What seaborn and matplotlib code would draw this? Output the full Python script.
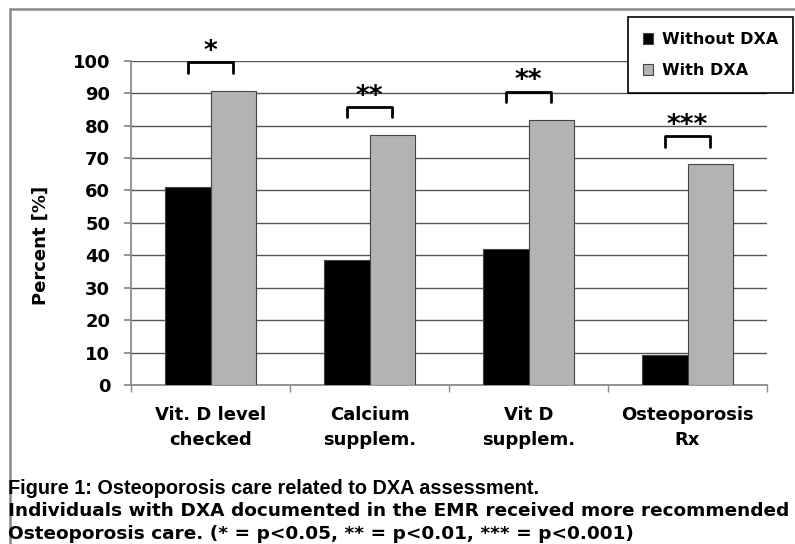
import matplotlib
matplotlib.use("Agg")
import matplotlib.pyplot as plt
import seaborn as sns
import pandas as pd
from matplotlib.lines import Line2D

categories = ["Vit. D level\nchecked", "Calcium\nsupplem.", "Vit D\nsupplem.", "Osteoporosis\nRx"]
series_names = ["Without DXA", "With DXA"]
without_dxa = [61.2, 38.6, 41.8, 9.4]
with_dxa = [90.8, 77.0, 81.8, 68.0]
significance = ["*", "**", "**", "***"]
yticks = [0, 10, 20, 30, 40, 50, 60, 70, 80, 90, 100]
caption_lines = [
    "Figure 1: Osteoporosis care related to DXA assessment.",
    "Individuals with DXA documented in the EMR received more recommended",
    "Osteoporosis care. (* = p<0.05, ** = p<0.01, *** = p<0.001)",
]

sns.set_theme(style="white")
plt.rcParams["font.family"] = ["DejaVu Sans"]
plt.rcParams["font.weight"] = "bold"
for key in ["text.color", "axes.labelcolor", "xtick.color", "ytick.color"]:
    plt.rcParams[key] = "black"

df = pd.DataFrame({
    "category": categories * 2,
    "group": [series_names[0]] * 4 + [series_names[1]] * 4,
    "value": without_dxa + with_dxa,
})

W, H = 795, 544
fig = plt.figure(figsize=(W / 100, H / 100), dpi=100)
ax = fig.add_axes([131 / W, 1 - 385 / H, 636 / W, 324.3 / H])

sns.barplot(data=df, x="category", y="value", hue="group", order=categories,
            hue_order=series_names, palette=["#000000", "#b3b3b3"], width=0.57,
            edgecolor="#444444", linewidth=0.8, ax=ax, zorder=3)

ax.set_ylim(0, 100)
ax.set_xlim(-0.5, len(categories) - 0.5)
ax.set_yticks(yticks)
ax.set_yticklabels([str(t) for t in yticks], fontsize=13, fontweight="bold")
ax.yaxis.grid(True, color="#555555", linewidth=1.0, zorder=0)
ax.set_axisbelow(True)
for s in ["top", "right"]:
    ax.spines[s].set_visible(False)
ax.spines["left"].set_color("#888888")
ax.spines["bottom"].set_color("#888888")
ax.tick_params(axis="y", direction="out", length=5, color="#888888", left=True, pad=10)

ax.set_xticks(range(len(categories)))
ax.set_xticklabels(categories, fontsize=13, fontweight="bold", linespacing=1.5)
ax.tick_params(axis="x", length=0, pad=15)
ax.set_xticks([i + 0.5 for i in range(-1, len(categories))], minor=True)
ax.tick_params(axis="x", which="minor", direction="out", length=5, color="#888888", bottom=True)
ax.set_xlabel("")
ax.set_ylabel("Percent [%]", fontsize=13, fontweight="bold")
ax.yaxis.set_label_coords(-0.127, 0.43)

# significance brackets
bw = 0.57 / 2
for i, (g, sig) in enumerate(zip(with_dxa, significance)):
    top = g + 8.7
    x0, x1 = i - bw / 2, i + bw / 2
    ax.plot([x0, x0, x1, x1], [top - 3.2, top, top, top - 3.2], color="black",
            lw=2, clip_on=False, zorder=5)
    ax.text(i, top - 0.8, sig, ha="center", va="bottom", fontsize=19,
            fontweight="bold", clip_on=False)

leg = ax.legend(loc="upper right", bbox_to_anchor=(793 / W, 1 - 17 / H),
                bbox_transform=fig.transFigure, frameon=True, fancybox=False,
                framealpha=1.0, borderaxespad=0.0,
                prop={"weight": "bold", "size": 11.5},
                handlelength=0.6, handleheight=0.6, handletextpad=0.55,
                labelspacing=1.0, borderpad=0.95)
leg.get_frame().set_edgecolor("black")
leg.get_frame().set_linewidth(1.2)
for t in leg.get_texts():
    t.set_color("black")

caption_fonts = [("Liberation Sans", 14.3), ("DejaVu Sans", 13.3), ("DejaVu Sans", 13.3)]
for k, (line, (fam, size)) in enumerate(zip(caption_lines, caption_fonts)):
    fig.text(8 / W, 1 - (488 + 23 * k) / H, line, ha="left", va="center",
             fontsize=size, fontweight="bold", family=[fam, "DejaVu Sans"])

fig.add_artist(Line2D([10 / W, 10 / W], [0, 1 - 9 / H], transform=fig.transFigure,
                      color="#888888", lw=1.8))
fig.add_artist(Line2D([10 / W, 1], [1 - 9 / H, 1 - 9 / H], transform=fig.transFigure,
                      color="#888888", lw=1.8))

fig.savefig("out.png", dpi=100)
